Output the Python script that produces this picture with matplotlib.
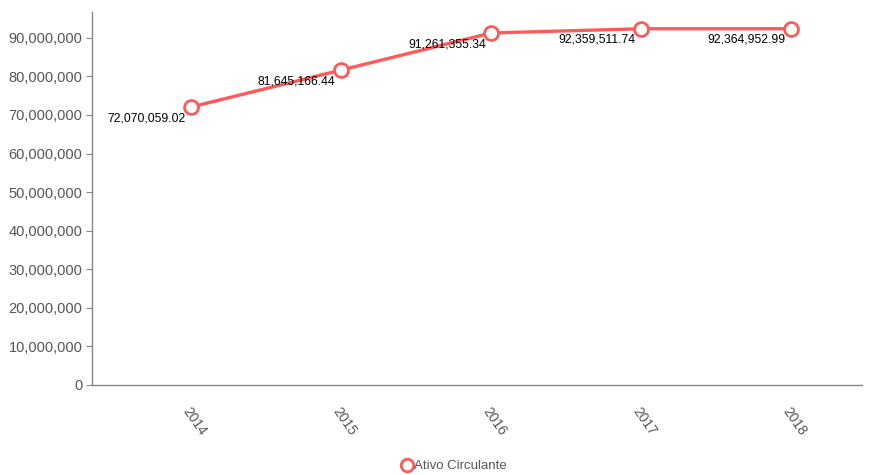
import matplotlib
matplotlib.use("Agg")
import matplotlib.pyplot as plt
from matplotlib.ticker import MultipleLocator, FuncFormatter

plt.rcParams.update({"font.family": ["Liberation Sans", "DejaVu Sans"]})

years = ["2014", "2015", "2016", "2017", "2018"]
ativo_circulante = [72070059.02, 81645166.44, 91261355.34, 92359511.74, 92364952.99]
series_name = "Ativo Circulante"

line_color = "#ff5a5a"
axis_color = "#888888"
text_color = "#555555"

W, H = 8.75, 4.75
fig = plt.figure(figsize=(W, H), dpi=100)
ax = fig.add_axes([92 / 875, 90 / 475, 770 / 875, 373 / 475])

xs = list(range(len(years)))
ax.plot(xs, ativo_circulante, "-o", color=line_color, lw=2.4,
        markersize=10, markerfacecolor="white", markeredgecolor=line_color,
        markeredgewidth=2, label=series_name, zorder=3)

for x, v in zip(xs, ativo_circulante):
    ax.annotate(f"{v:,.2f}", (x, v), xytext=(-4, -8), textcoords="offset points",
                ha="right", va="center", fontsize=8.8, color="black", zorder=4)

ax.set_xlim(-0.66, 4.47)
ax.set_ylim(0, 96.7e6)
ax.set_xticks(xs)
ax.set_xticklabels(years, rotation=-55, ha="left", va="top", rotation_mode="anchor",
                   color=text_color, fontsize=10)
ax.tick_params(axis="x", length=0, pad=14)
ax.yaxis.set_major_locator(MultipleLocator(10e6))
ax.yaxis.set_major_formatter(FuncFormatter(lambda v, p: f"{v:,.0f}"))
ax.tick_params(axis="y", length=4, width=0.8, color=axis_color, labelcolor=text_color,
               labelsize=10.5, pad=3)

for s in ["top", "right"]:
    ax.spines[s].set_visible(False)
for s in ["left", "bottom"]:
    ax.spines[s].set_color(axis_color)
    ax.spines[s].set_linewidth(1)

fig.legend(loc="center", bbox_to_anchor=(455 / 875, 1 - 466 / 475), frameon=False,
           fontsize=9.5, labelcolor=text_color, handlelength=0.6, handletextpad=0.2,
           markerscale=0.9)

fig.savefig("out.png", dpi=100)
